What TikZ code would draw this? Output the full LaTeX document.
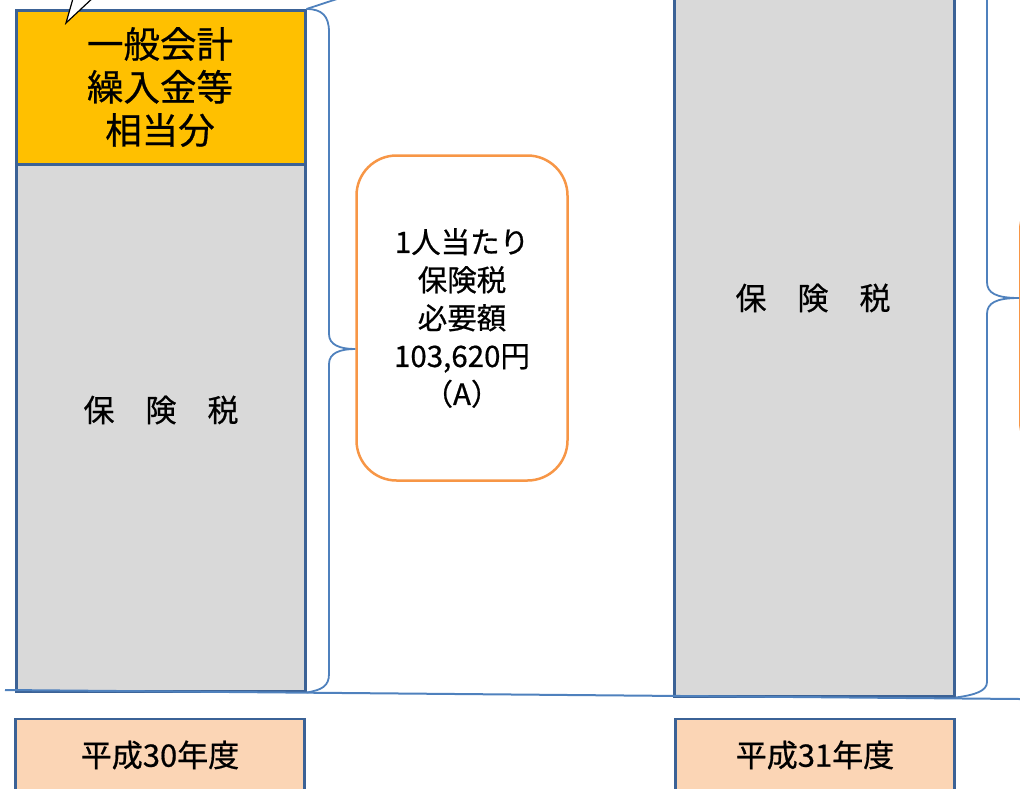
\documentclass[tikz,border=0pt]{standalone}
\usepackage{fontspec}
\setmainfont{Noto Sans CJK JP}[FakeBold=0.6]
\definecolor{boxline}{HTML}{3B6296}
\definecolor{braceline}{HTML}{4F81BD}
\definecolor{taxgray}{HTML}{D9D9D9}
\definecolor{genfill}{HTML}{FFC000}
\definecolor{yrfill}{HTML}{FBD5B5}
\definecolor{needline}{HTML}{F79646}

\begin{document}
\begin{tikzpicture}[x=1pt,y=-1pt,
  block/.style={draw=boxline,line width=2.5pt,anchor=north west,inner sep=0pt},
  brace/.style={draw=braceline,line width=1.8pt},
  need/.style={draw=needline,line width=2.5pt,fill=white,rounded corners=40pt,align=center,
    font=\fontsize{29.5}{38}\selectfont},
  big/.style={align=center,font=\fontsize{36.5}{43}\selectfont},
  tax/.style={font=\fontsize{31}{36}\selectfont},
  year/.style={draw=boxline,line width=2.5pt,fill=yrfill,minimum height=72pt,
    font=\fontsize{31}{34}\selectfont}]

\clip (0,0) rectangle (1020,788);

\node[block,fill=genfill,minimum width=289pt,minimum height=154pt] (gen30) at (15,9) {};
\node[block,fill=taxgray,minimum width=289pt,minimum height=527pt] (tax30) at (15,163) {};
\node[big] (gen30text) at (160,87) {一般会計\\繰入金等\\相当分};
\node[tax] (tax30text) at (161,410) {保　険　税};

\draw[fill=white,line width=1.2pt] (66,23) -- (74,-5) -- (96,-5) -- cycle;

\node[block,fill=taxgray,minimum width=280pt,minimum height=710pt] (tax31) at (673,-15) {};
\node[tax] (tax31text) at (813,298) {保　険　税};

\node[need,minimum width=211pt,minimum height=325pt] (need30) at (462,318)
  {1人当たり\\保険税\\必要額\\103,620円\\（A）};
\node[need,minimum width=211pt,minimum height=272pt,anchor=west] (need31) at (1019,326) {};

\coordinate (base0) at (5,690);
\coordinate (base1) at (1020,699);
\draw[draw=braceline,line width=2pt] (base0) -- (base1);

\coordinate (up30) at (340,-2);
\draw[brace] (gen30.north east) -- (up30);
\draw[brace] (gen30.north east) .. controls (322,9) and (329,16) .. (329,32) -- (329,334)
  .. controls (329,345) and (340,349) .. ([yshift=-31pt]need30.west)
  .. controls (340,349) and (329,353) .. (329,364) -- (329,674)
  .. controls (329,686) and (322,690) .. (tax30.south east);

\draw[brace] (987,-10) -- (987,282) .. controls (987,293) and (996,298) .. ([yshift=28pt]need31.west)
  .. controls (996,298) and (987,303) .. (987,314) -- (987,682)
  .. controls (987,691) and (975,695) .. (tax31.south east);

\node[year,minimum width=289pt] (yr30) at (160,755) {平成30年度};
\node[year,minimum width=279pt] (yr31) at (815,755) {平成31年度};

\end{tikzpicture}
\end{document}
